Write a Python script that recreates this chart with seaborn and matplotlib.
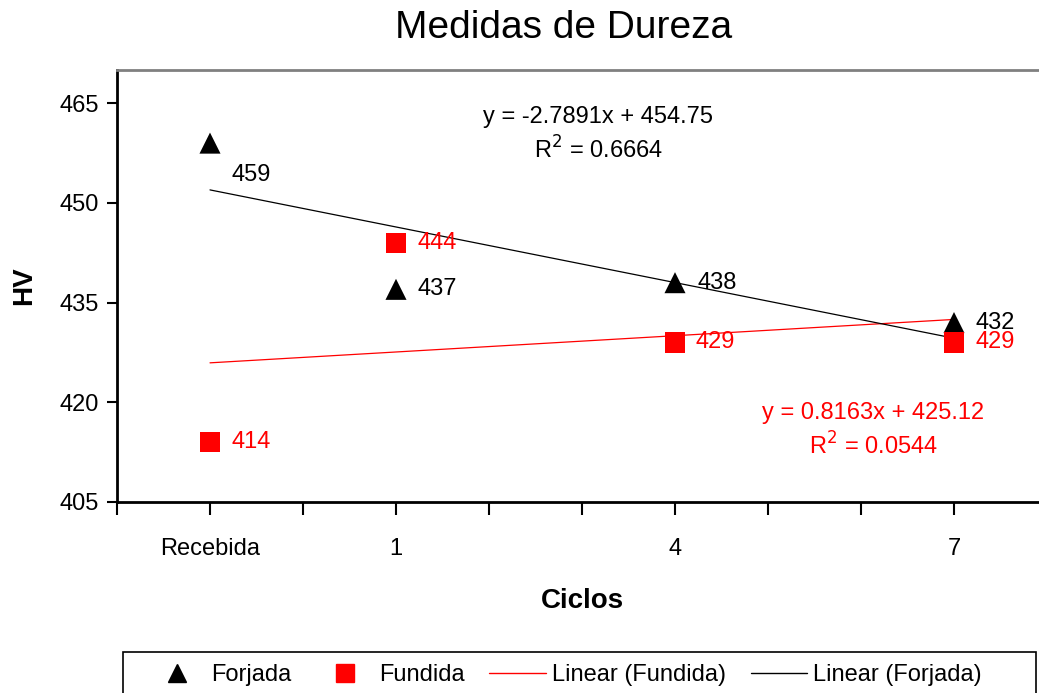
import matplotlib
matplotlib.use("Agg")
import matplotlib.pyplot as plt
from matplotlib.lines import Line2D
from matplotlib.patches import Rectangle
import numpy as np
import pandas as pd
import seaborn as sns

# Hardness measurements (HV) per forging/casting cycle
ciclos_labels = ["Recebida", "1", "4", "7"]
ciclos_pos = [1, 3, 6, 9]
forjada_hv = [459, 437, 438, 432]
fundida_hv = [414, 444, 429, 429]

sns.set_theme(style="white")
plt.rcParams["font.family"] = ["Liberation Sans", "DejaVu Sans"]
plt.rcParams.update({"text.color": "black", "axes.labelcolor": "black",
                     "xtick.color": "black", "ytick.color": "black"})

df = pd.DataFrame({
    "pos": ciclos_pos * 2,
    "hv": forjada_hv + fundida_hv,
    "serie": ["Forjada"] * 4 + ["Fundida"] * 4,
})
forj = df[df.serie == "Forjada"]
fund = df[df.serie == "Fundida"]

W, H = 1039, 693
fig = plt.figure(figsize=(W / 100, H / 100), dpi=100)
ax = fig.add_axes([117 / W, 1 - 502 / H, 930 / W, 432 / H])

red = "#FF0000"
FS = 17
# trend lines (least squares, like the equations shown)
sns.regplot(data=fund, x="pos", y="hv", scatter=False, ci=None, ax=ax,
            line_kws=dict(color=red, lw=0.9))
sns.regplot(data=forj, x="pos", y="hv", scatter=False, ci=None, ax=ax,
            line_kws=dict(color="black", lw=0.9))

sns.scatterplot(data=forj, x="pos", y="hv", marker="^", s=230, color="black",
                edgecolor="none", ax=ax, zorder=5)
sns.scatterplot(data=fund, x="pos", y="hv", marker="s", s=210, color=red,
                edgecolor="none", ax=ax, zorder=5)

# value labels
for i, (x, y) in enumerate(zip(ciclos_pos, forjada_hv)):
    dy = -32 if i == 0 else 0
    ax.annotate(str(y), (x, y), xytext=(22, dy), textcoords="offset pixels",
                ha="left", va="center", fontsize=FS, color="black")
for x, y in zip(ciclos_pos, fundida_hv):
    ax.annotate(str(y), (x, y), xytext=(21, 0), textcoords="offset pixels",
                ha="left", va="center", fontsize=FS, color=red)

# regression equations
for vals, col, px, py in [(forjada_hv, "black", 598, 117), (fundida_hv, red, 873, 413)]:
    m, b = np.polyfit(ciclos_pos, vals, 1)
    r2 = np.corrcoef(ciclos_pos, vals)[0, 1] ** 2
    sign = "+" if b >= 0 else "-"
    fig.text(px / W, 1 - py / H, f"y = {m:.4f}x {sign} {abs(b):.2f}",
             ha="center", va="center", fontsize=FS, color=col)
    fig.text(px / W, 1 - (py + 33) / H, f"R$^2$ = {r2:.4f}",
             ha="center", va="center", fontsize=FS, color=col)

ax.set_xlim(0, 10)
ax.set_ylim(405, 470)
ax.set_xticks(np.arange(0, 11))
ax.set_xticklabels(["" if t not in ciclos_pos else ciclos_labels[ciclos_pos.index(t)]
                    for t in range(11)])
ax.set_yticks([405, 420, 435, 450, 465])
ax.tick_params(axis="x", direction="out", length=9, width=1.5, color="black",
               labelsize=FS, pad=17, bottom=True)
ax.tick_params(axis="y", direction="out", length=7, width=1.5, color="black",
               labelsize=FS, pad=6, left=True)

for side in ["left", "bottom"]:
    ax.spines[side].set_color("black")
    ax.spines[side].set_linewidth(2)
ax.spines["top"].set_color("#808080")
ax.spines["top"].set_linewidth(2)
ax.spines["right"].set_visible(False)

ax.set_xlabel("Ciclos", fontsize=20, fontweight="bold", labelpad=20)
ax.set_ylabel("HV", fontsize=20, fontweight="bold", labelpad=16)
fig.text(564 / W, 1 - 28 / H, "Medidas de Dureza", ha="center", va="center",
         fontsize=28)

handles = [
    Line2D([], [], marker="^", color="black", ls="none", markersize=13),
    Line2D([], [], marker="s", color=red, ls="none", markersize=13),
    Line2D([], [], color=red, lw=1),
    Line2D([], [], color="black", lw=1),
]
labels = ["Forjada", "Fundida", "Linear (Fundida)", "Linear (Forjada)"]
leg = fig.legend(handles, labels, loc="upper left",
                 bbox_to_anchor=(137 / W, 1 - 652 / H),
                 ncol=4, fontsize=FS, frameon=False,
                 handlelength=2.4, handletextpad=0.25, columnspacing=1.05,
                 borderpad=0.5, borderaxespad=0)
# legend box
fig.patches.append(Rectangle((123 / W, 1 - 705 / H), 913 / W, 53 / H,
                             transform=fig.transFigure, fill=False,
                             edgecolor="black", linewidth=1.2))

fig.savefig("out.png", dpi=100)
